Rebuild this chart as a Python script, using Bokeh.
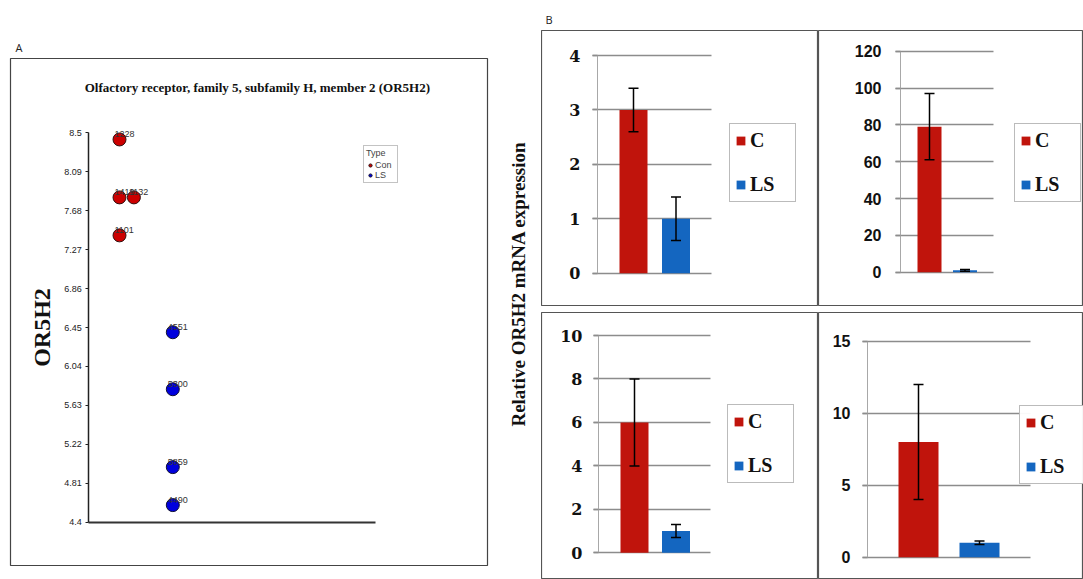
from bokeh.plotting import figure
from bokeh.layouts import row, column
from bokeh.models import (Range1d, LinearAxis, FixedTicker, Legend, LegendItem, Label,
                          Whisker, TeeHead, ColumnDataSource, Grid)
from bokeh.core.properties import value
from bokeh.embed import file_html
from bokeh.resources import INLINE

# ---------------- data ----------------
a_letter = "A"
a_title = "Olfactory receptor, family 5, subfamily H, member 2 (OR5H2)"
a_ylabel = "OR5H2"
a_ticks = [4.4, 4.81, 5.22, 5.63, 6.04, 6.45, 6.86, 7.27, 7.68, 8.09, 8.5]
a_tick_labels = ["4.4", "4.81", "5.22", "5.63", "6.04", "6.45", "6.86", "7.27", "7.68", "8.09", "8.5"]
a_legend_title = "Type"
a_groups = ["Con", "LS"]
con_ids = ["1228", "1419", "1132", "1101"]
con_vals = [8.43, 7.82, 7.82, 7.42]
con_jitter = [0.0, 0.0, 0.27, 0.0]
ls_ids = ["4551", "5300", "5859", "4490"]
ls_vals = [6.40, 5.80, 4.98, 4.58]
ls_jitter = [0.0, 0.0, 0.0, 0.0]

b_letter = "B"
b_ylabel = "Relative OR5H2 mRNA expression"
b_groups = ["C", "LS"]
b1_means = [3.0, 1.0]
b1_errs = [0.4, 0.4]
b1_ticks = [0, 1, 2, 3, 4]
b2_means = [79.0, 1.0]
b2_errs = [18.0, 0.5]
b2_ticks = [0, 20, 40, 60, 80, 100, 120]
b3_means = [6.0, 1.0]
b3_errs = [2.0, 0.3]
b3_ticks = [0, 2, 4, 6, 8, 10]
b4_means = [8.0, 1.0]
b4_errs = [4.0, 0.12]
b4_ticks = [0, 5, 10, 15]

# ---------------- styles ----------------
RED_A, BLUE_A = "#cc0000", "#0000dd"
RED_B, BLUE_B = "#c0140c", "#1466c0"
SERIF = "Liberation Serif"
HEAVY_SERIF = "DejaVu Serif"
SANS = "Liberation Sans"


def lin(a_px, a_val, b_px, b_val):
    k = (b_val - a_val) / (b_px - a_px)
    return (lambda px: a_val + (px - a_px) * k), abs(1.0 / k)


# ---------------- panel A ----------------
FL, FT, FR, FB = 10, 58, 487, 565
ya, _ = lin(132.3, 8.5, 521.7, 4.4)
xa, _ = lin(119, 1.0, 172.3, 2.0)

pA = figure(width=500, height=579, output_backend="svg", toolbar_location=None,
            x_range=Range1d(xa(FL), xa(FR)), y_range=Range1d(ya(FB), ya(FT)),
            x_axis_location=None, y_axis_location=None,
            min_border_left=FL, min_border_right=500 - FR, min_border_top=FT,
            min_border_bottom=579 - FB)
pA.grid.visible = False
pA.outline_line_color = "#444444"
pA.outline_line_width = 1.2
pA.title.text = a_letter
pA.title.align = "left"
pA.title.offset = 5
pA.title.standoff = 8
pA.title.text_font = "Open Sans"
pA.title.text_font_style = "normal"
pA.title.text_font_size = "11px"
pA.title.text_color = "#222222"

yax = LinearAxis(fixed_location=xa(88.3), bounds=(a_ticks[0], a_ticks[-1]),
                 ticker=FixedTicker(ticks=a_ticks),
                 major_label_overrides={t: s for t, s in zip(a_ticks, a_tick_labels)},
                 axis_label=a_ylabel, axis_label_standoff=6,
                 axis_label_text_font=SERIF, axis_label_text_font_style="bold",
                 axis_label_text_font_size="24px", axis_label_text_color="#111111",
                 axis_line_color="#222222", axis_line_width=1.5,
                 major_tick_out=3, major_tick_in=0, major_tick_line_color="#222222",
                 minor_tick_line_color=None, major_label_standoff=4,
                 major_label_text_font=SANS, major_label_text_font_size="9px",
                 major_label_text_color="#222222")
pA.add_layout(yax, "left")
xax = LinearAxis(fixed_location=a_ticks[0], bounds=(xa(88.3), xa(375)),
                 ticker=FixedTicker(ticks=[]), axis_line_color="#333333", axis_line_width=2,
                 major_tick_line_color=None, minor_tick_line_color=None,
                 major_label_text_font_size="0px")
pA.add_layout(xax, "below")

con_x = [1.0 + j for j in con_jitter]
ls_x = [2.0 + j for j in ls_jitter]
rc = pA.scatter(x=con_x, y=con_vals, size=13, fill_color=RED_A, line_color="#331111", line_width=1)
rl = pA.scatter(x=ls_x, y=ls_vals, size=13, fill_color=BLUE_A, line_color="#111133", line_width=1)
pA.text(x=con_x, y=con_vals, text=con_ids, x_offset=-5, y_offset=-2, text_baseline="bottom",
        text_font=value(SANS), text_font_size="9px", text_color="#333333")
pA.text(x=ls_x, y=ls_vals, text=ls_ids, x_offset=-5, y_offset=-2, text_baseline="bottom",
        text_font=value(SANS), text_font_size="9px", text_color="#333333")

pA.add_layout(Label(x=257 - FL, y=FB - 87, x_units="screen", y_units="screen", text=a_title,
                    text_align="center", text_baseline="middle", text_font=SERIF,
                    text_font_style="bold", text_font_size="13px", text_color="#111111"))

legA = Legend(items=[LegendItem(label=a_groups[0], renderers=[rc]),
                     LegendItem(label=a_groups[1], renderers=[rl])],
              title=a_legend_title, location=(363 - FL, FB - 183),
              title_text_font=SANS, title_text_font_size="9px", title_text_font_style="normal",
              title_standoff=2, label_text_font=SANS, label_text_font_size="9px",
              glyph_width=8, glyph_height=8, label_height=8, label_standoff=1,
              padding=2, spacing=0, margin=0, border_line_color="#888888")
pA.add_layout(legA)

# ---------------- panel B ----------------
specs = [
    dict(frame=(541, 30, 818, 305), mt=30, mb=1, y0=(272.7, 0), y1=(55, 4), x0=(633, 1), x1=(675.5, 2),
         axis=597, grid_end=711, bar_w=28, leg=(729, 202), font=HEAVY_SERIF, fsize="16px", std=12),
    dict(frame=(818, 30, 1083, 305), mt=30, mb=1, y0=(271.7, 0), y1=(50.7, 120), x0=(929, 1), x1=(964.5, 2),
         axis=900, grid_end=993, bar_w=24, leg=(1014, 202), font=SANS, fsize="16px", std=14),
    dict(frame=(541, 312, 818, 579), mt=6, mb=0, y0=(552.3, 0), y1=(335, 10), x0=(634, 1), x1=(675.5, 2),
         axis=598, grid_end=710, bar_w=28, leg=(727, 483), font=HEAVY_SERIF, fsize="16px", std=11),
    dict(frame=(818, 312, 1083, 579), mt=6, mb=0, y0=(556.7, 0), y1=(340.7, 15), x0=(918, 1), x1=(979, 2),
         axis=867, grid_end=1030, bar_w=40, leg=(1019, 484), font=SANS, fsize="16px", std=12),
]
has_cross = "cross_bounds" in Grid.properties()


def make_sub(spec, means, errs, ticks, title=None):
    L, T, R, B = spec["frame"]
    fy, _ = lin(*spec["y0"], *spec["y1"])
    fx, ppu = lin(*spec["x0"], *spec["x1"])
    p = figure(width=R - L, height=spec["mt"] + (B - T) + spec["mb"], output_backend="svg",
               toolbar_location=None, x_range=Range1d(fx(L), fx(R)), y_range=Range1d(fy(B), fy(T)),
               x_axis_location=None, y_axis_location=None,
               min_border_left=0, min_border_right=0, min_border_top=spec["mt"],
               min_border_bottom=spec["mb"])
    p.grid.visible = False
    p.outline_line_color = "#555555"
    p.outline_line_width = 1.2
    if title:
        p.title.text = title
        p.title.align = "left"
        p.title.offset = 4
        p.title.standoff = 7
        p.title.text_font = "Open Sans"
        p.title.text_font_style = "normal"
        p.title.text_font_size = "11px"
        p.title.text_color = "#222222"

    gx0, gx1 = fx(spec["axis"] - 5), fx(spec["grid_end"])
    if has_cross:
        g = Grid(dimension=1, ticker=FixedTicker(ticks=ticks), grid_line_color="#8c8c8c",
                 grid_line_width=1.5, cross_bounds=(gx0, gx1))
        p.add_layout(g)
    else:
        p.segment(x0=[gx0] * len(ticks), x1=[gx1] * len(ticks), y0=ticks, y1=ticks,
                  line_color="#8c8c8c", line_width=1.5)

    ax = LinearAxis(fixed_location=fx(spec["axis"]), bounds=(ticks[0], ticks[-1]),
                    ticker=FixedTicker(ticks=ticks), axis_line_color="#a8a8a8", axis_line_width=1,
                    major_tick_out=5, major_tick_in=0, major_tick_line_color="#8c8c8c",
                    major_tick_line_width=1.5, minor_tick_line_color=None,
                    major_label_standoff=spec["std"], major_label_text_font=spec["font"],
                    major_label_text_font_style="bold", major_label_text_font_size=spec["fsize"],
                    major_label_text_color="#111111")
    p.add_layout(ax, "left")

    src = ColumnDataSource(dict(x=[1, 2], top=means,
                                upper=[m + e for m, e in zip(means, errs)],
                                lower=[m - e for m, e in zip(means, errs)],
                                color=[RED_B, BLUE_B]))
    r = p.vbar(x="x", top="top", bottom=0, width=spec["bar_w"] / ppu, fill_color="color",
               line_color=None, source=src)
    w = Whisker(source=src, base="x", upper="upper", lower="lower", line_color="black",
                line_width=1.5, level="overlay",
                upper_head=TeeHead(size=10, line_color="black", line_width=1.5),
                lower_head=TeeHead(size=10, line_color="black", line_width=1.5))
    p.add_layout(w)

    lx, lb = spec["leg"]
    leg = Legend(items=[LegendItem(label=b_groups[0], renderers=[r], index=0),
                        LegendItem(label=b_groups[1], renderers=[r], index=1)],
                 location=(lx - L, B - lb), label_text_font=SERIF, label_text_font_style="bold",
                 label_text_font_size="20px", label_text_color="#111111",
                 glyph_width=11, glyph_height=11, label_height=20, label_width=40,
                 label_standoff=4, spacing=21, padding=5, margin=0,
                 border_line_color="#777777", border_line_width=1)
    p.add_layout(leg)
    return p


pTL = make_sub(specs[0], b1_means, b1_errs, b1_ticks, title=b_letter)
pTR = make_sub(specs[1], b2_means, b2_errs, b2_ticks)
pBL = make_sub(specs[2], b3_means, b3_errs, b3_ticks)
pBR = make_sub(specs[3], b4_means, b4_errs, b4_ticks)

pLab = figure(width=41, height=579, output_backend="svg", toolbar_location=None,
              x_range=Range1d(0, 1), y_range=Range1d(0, 1),
              x_axis_location=None, y_axis_location=None, min_border=0)
pLab.grid.visible = False
pLab.outline_line_color = None
pLab.add_layout(Label(x=18, y=579 - 297.5, x_units="screen", y_units="screen", text=b_ylabel,
                      angle=90, angle_units="deg", text_align="center", text_baseline="middle",
                      text_font=SERIF, text_font_style="bold", text_font_size="19px",
                      text_color="#111111"))

layout = row(pA, pLab, column(row(pTL, pTR), row(pBL, pBR)))

with open("out.html", "w") as f:
    f.write(file_html(layout, INLINE))
